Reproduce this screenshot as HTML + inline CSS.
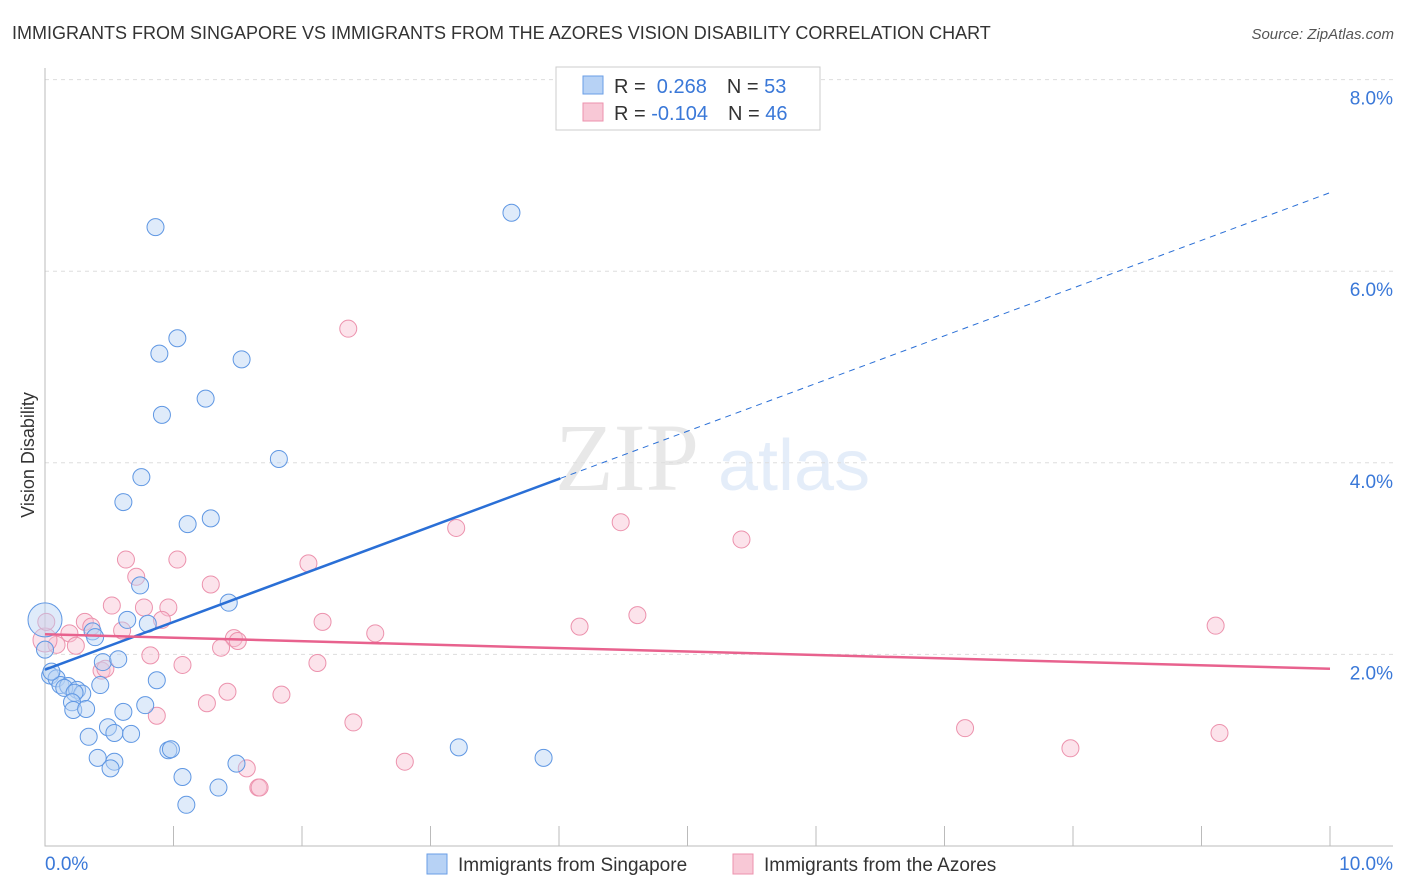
<!DOCTYPE html>
<html><head><meta charset="utf-8"><style>
body{margin:0;background:#fff;font-family:"Liberation Sans",sans-serif}
</style></head><body>
<svg id="chart" width="1406" height="892" xmlns="http://www.w3.org/2000/svg" style="display:block">
<text x="12" y="39" font-size="18" fill="#333">IMMIGRANTS FROM SINGAPORE VS IMMIGRANTS FROM THE AZORES VISION DISABILITY CORRELATION CHART</text>
<text x="1394" y="39" font-size="15" fill="#555" text-anchor="end" font-style="italic">Source: ZipAtlas.com</text>
<g opacity="0.13">
<text x="555" y="490" font-size="96" font-family="Liberation Serif" fill="#555">ZIP</text>
<text x="718" y="490" font-size="72" fill="#3a78d8">atlas</text>
</g>
<text transform="translate(34,455) rotate(-90)" font-size="18" fill="#333" text-anchor="middle">Vision Disability</text>
<g id="grid"></g><g id="axes"></g><g id="pts"></g><g id="trends"></g>
<g>
<rect x="556" y="67" width="264" height="63" fill="#fff" stroke="#ccc"/>
<rect x="583" y="76" width="20" height="18" fill="#b7d2f5" stroke="#6a9ee6"/>
<rect x="583" y="103" width="20" height="18" fill="#f8c8d6" stroke="#ec92ad"/>
<text x="614" y="93" font-size="20" fill="#333">R = <tspan fill="#3a78d8">&#160;0.268</tspan><tspan dx="20">N = </tspan><tspan fill="#3a78d8">53</tspan></text>
<text x="614" y="120" font-size="20" fill="#333">R = <tspan fill="#3a78d8">-0.104</tspan><tspan dx="20">N = </tspan><tspan fill="#3a78d8">46</tspan></text>
</g>
<g>
<rect x="427" y="854" width="20" height="20" fill="#b7d2f5" stroke="#6a9ee6"/>
<text x="458" y="871" font-size="19" fill="#333">Immigrants from Singapore</text>
<rect x="733" y="854" width="20" height="20" fill="#f8c8d6" stroke="#ec92ad"/>
<text x="764" y="871" font-size="19" fill="#333">Immigrants from the Azores</text>
</g>
</svg>
<script>
const blueX=[0.86,3.63,1.03,0.89,1.53,0.91,1.25,1.82,0.75,0.61,1.11,1.29,0.74,1.43,0.64,0.80,0.37,0.39,0.45,0.57,0.04,0.09,0.12,0.18,0.15,0.25,0.29,0.23,0.43,0.87,0.21,0.22,0.32,0.61,0.78,0.49,0.54,0.67,0.34,0.41,0.54,0.51,0.96,0.98,1.49,1.07,1.35,1.10,3.22,3.88,0.0,0.05,0.0];
const blueY=[6.46,6.61,5.30,5.14,5.08,4.50,4.67,4.04,3.85,3.59,3.36,3.42,2.72,2.54,2.36,2.32,2.24,2.18,1.92,1.95,1.78,1.75,1.68,1.67,1.65,1.63,1.59,1.60,1.68,1.73,1.50,1.42,1.43,1.40,1.47,1.24,1.18,1.17,1.14,0.92,0.88,0.81,1.00,1.01,0.86,0.72,0.61,0.43,1.03,0.92,2.36,1.82,2.05];
const pinkX=[2.36,4.48,3.20,5.42,0.63,1.03,2.05,0.71,1.29,0.52,0.77,0.96,0.91,2.16,0.31,0.36,0.60,0.19,1.47,1.50,2.57,4.16,4.61,9.11,1.37,0.82,0.24,0.09,1.07,2.12,0.44,0.47,1.42,1.84,1.26,0.87,2.40,7.16,7.98,9.14,2.80,1.57,1.66,1.67,0.0,0.01];
const pinkY=[5.40,3.38,3.32,3.20,2.99,2.99,2.95,2.81,2.73,2.51,2.49,2.49,2.36,2.34,2.34,2.29,2.25,2.22,2.17,2.14,2.22,2.29,2.41,2.30,2.07,1.99,2.09,2.10,1.89,1.91,1.83,1.85,1.61,1.58,1.49,1.36,1.29,1.23,1.02,1.18,0.88,0.81,0.61,0.61,2.15,2.34];
const blueTrend=[1.84,6.82];
const pinkTrend=[2.21,1.85];
const yTicks=[2,4,6,8];
const xTickLabels=["0.0%","10.0%"];
const NS="http://www.w3.org/2000/svg";
const X=v=>45+v*128.5, Y=v=>846-v*95.8;
function mk(p,t,a){const e=document.createElementNS(NS,t);for(const k in a)e.setAttribute(k,a[k]);document.getElementById(p).appendChild(e);return e;}
yTicks.forEach(t=>{
 const l=mk('grid','line',{x1:45,x2:1393,y1:Y(t),y2:Y(t),stroke:'#ddd','stroke-dasharray':'4,4'});
 
 
 const tx=mk('grid','text',{x:1393,y:Y(t)+25,'font-size':19,fill:'#3a78d8','text-anchor':'end'});
 tx.textContent=t.toFixed(1)+'%';
 
 
});
const ax=mk('axes','path',{d:`M45 68V846H1393`,stroke:'#bbb',fill:'none'});


for(let i=1;i<=10;i++){const t=mk('axes','line',{x1:X(i),x2:X(i),y1:826,y2:846,stroke:'#bbb'});
 
 }
[[0,'start',45],[10,'end',1393]].forEach((d,i)=>{const t=mk('axes','text',{x:d[2],y:870,'font-size':19,fill:'#3a78d8','text-anchor':d[1]});t.textContent=xTickLabels[i];
 
 });
function pts(xs,ys,fill,stroke,name){xs.forEach((x,i)=>{const big=(x===0&&i>=xs.length-3&&ys[i]>2.1);
 const c=mk('pts','circle',{cx:X(x),cy:Y(ys[i]),r:big?(name==='blue-point'?17:12):8.5,fill:fill,'fill-opacity':0.45,stroke:stroke,'stroke-width':1});
 
 });}
pts(pinkX,pinkY,'#f8c0d2','#ec92ad','pink-point');
pts(blueX,blueY,'#b7d2f5','#5f97e3','blue-point');
const bs=blueTrend[0],bsl=(blueTrend[1]-blueTrend[0])/10;
const b1=mk('trends','line',{x1:X(0),y1:Y(bs),x2:X(4.01),y2:Y(bs+bsl*4.01),stroke:'#2a6fd6','stroke-width':2.5});


const b2=mk('trends','line',{x1:X(4.01),y1:Y(bs+bsl*4.01),x2:X(10),y2:Y(blueTrend[1]),stroke:'#2a6fd6','stroke-width':1,'stroke-dasharray':'6,5'});


const p1=mk('trends','line',{x1:X(0),y1:Y(pinkTrend[0]),x2:X(10),y2:Y(pinkTrend[1]),stroke:'#e8628e','stroke-width':2.5});


</script>
</body></html>
